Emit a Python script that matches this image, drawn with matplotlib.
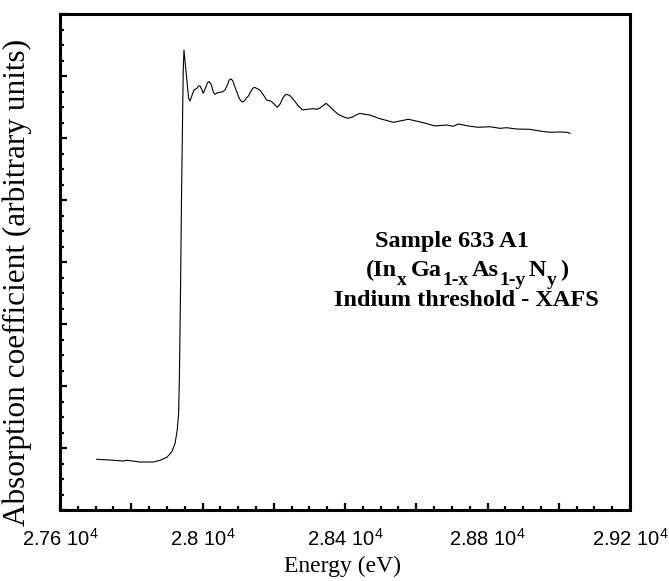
import matplotlib
matplotlib.use("Agg")
import matplotlib.pyplot as plt
from matplotlib.ticker import MultipleLocator, NullFormatter, FuncFormatter

plt.rcParams['mathtext.fontset'] = 'custom'
plt.rcParams['mathtext.rm'] = 'Liberation Sans'
plt.rcParams['mathtext.it'] = 'Liberation Sans:italic'
plt.rcParams['mathtext.bf'] = 'Liberation Serif:bold'

energy = [27703, 27740, 27778, 27787, 27825, 27862, 27881, 27900, 27914, 27923,
          27929, 27933, 27935, 27938, 27941, 27944, 27946, 27948,
          27956, 27961, 27965, 27971, 27976, 27984, 27989, 27993, 27998, 28002,
          28008, 28014, 28019, 28025, 28030, 28035, 28042, 28049, 28057, 28063,
          28070, 28075, 28080, 28085, 28090, 28096, 28103, 28109, 28113, 28118,
          28124, 28129, 28135, 28141, 28146, 28152, 28161, 28171, 28180, 28188,
          28194, 28204, 28210, 28218, 28225, 28231, 28236, 28244, 28250, 28260,
          28269, 28281, 28292, 28302, 28311, 28321, 28330, 28337, 28347, 28356,
          28367, 28381, 28395, 28407, 28419, 28431, 28442, 28456, 28470,
          28494, 28536, 28578, 28596, 28620, 28653, 28685, 28704, 28718, 28746,
          28774, 28807, 28835, 28854, 28882, 28919, 28952, 28975, 29004, 29022,
          29032]
absorption = [0.818, 0.806, 0.790, 0.802, 0.774, 0.774, 0.802, 0.850, 0.940, 1.076,
              1.290, 1.560, 2.097, 3.387, 5.000, 6.290, 7.097, 7.419,
              6.936, 6.640, 6.597, 6.694, 6.774, 6.801, 6.839, 6.839, 6.785, 6.721,
              6.801, 6.893, 6.909, 6.855, 6.747, 6.704, 6.731, 6.737, 6.747, 6.774,
              6.855, 6.936, 6.952, 6.925, 6.839, 6.747, 6.640, 6.592, 6.581, 6.602,
              6.651, 6.678, 6.747, 6.801, 6.817, 6.801, 6.774, 6.694, 6.613, 6.602,
              6.586, 6.532, 6.495, 6.549, 6.640, 6.688, 6.704, 6.688, 6.656, 6.586,
              6.516, 6.452, 6.462, 6.468, 6.473, 6.462, 6.484, 6.516, 6.559, 6.516,
              6.452, 6.382, 6.344, 6.317, 6.333, 6.371, 6.398, 6.382, 6.371,
              6.318, 6.253, 6.302, 6.279, 6.247, 6.194, 6.210, 6.189, 6.226, 6.194,
              6.173, 6.182, 6.156, 6.166, 6.145, 6.140, 6.108, 6.092, 6.097, 6.092,
              6.076]

xtick_values = [27600, 28000, 28400, 28800, 29200]
xtick_labels = ['2.76 10$^{4}$', '2.8 10$^{4}$', '2.84 10$^{4}$', '2.88 10$^{4}$', '2.92 10$^{4}$']
tick_label_map = dict(zip(xtick_values, xtick_labels))

# formula pieces: (text, is_subscript)
formula = [('(In', False), ('x', True), ('Ga', False), ('1-x', True), ('As', False),
           ('1-y', True), ('N', False), ('y', True), (')', False)]

W, H = 669, 581
fig = plt.figure(figsize=(W/100, H/100), dpi=100)
ax = fig.add_axes([60/W, 1-510/H, 570/W, 496/H])

ax.plot(energy, absorption, color='black', linewidth=0.8)

ax.set_xlim(27600, 29200)
ax.set_ylim(0, 8)

ax.xaxis.set_major_locator(MultipleLocator(200))
ax.xaxis.set_major_formatter(FuncFormatter(lambda v, p: tick_label_map.get(int(round(v)), '')))
ax.xaxis.set_minor_locator(MultipleLocator(50))
ax.yaxis.set_major_locator(MultipleLocator(1))
ax.yaxis.set_minor_locator(MultipleLocator(0.25))
ax.yaxis.set_major_formatter(NullFormatter())

ax.tick_params(which='both', direction='in', width=1.6, top=False, right=False)
ax.tick_params(which='major', length=5, pad=13)
ax.tick_params(which='minor', length=3)
for lab in ax.get_xticklabels():
    lab.set_family('Liberation Sans')
    lab.set_fontsize(14.5)
for s in ax.spines.values():
    s.set_linewidth(2.2)

fig.text(343/W, 1-566/H, 'Energy (eV)', ha='center', va='center',
         fontsize=17, family='Liberation Serif')
fig.text(17/W, 1-282/H, 'Absorption coefficient (arbitrary units)', ha='center',
         va='center', rotation=90, fontsize=22.5, family='Liberation Serif')

ax.text((452-60)/570, (510-241)/496, 'Sample 633 A1', transform=ax.transAxes,
        ha='center', va='center', fontsize=17.5, family='Liberation Serif', fontweight='bold')
ax.text((466-60)/570, (510-300)/496, 'Indium threshold - XAFS', transform=ax.transAxes,
        ha='center', va='center', fontsize=17.5, family='Liberation Serif', fontweight='bold')

# formula line laid out piece by piece (subscripts lowered)
renderer = fig.canvas.get_renderer()
main_size, sub_size = 17.5, 14
widths = []
for s, sub in formula:
    t = fig.text(0, 0, s, fontsize=sub_size if sub else main_size,
                 family='Liberation Serif', fontweight='bold')
    widths.append(t.get_window_extent(renderer).width)
    t.remove()
gaps = [(0.5 if formula[i + 1][1] else 3.5) for i in range(len(formula) - 1)]
total = sum(widths) + sum(gaps)
x = 467 - total / 2
base_main = 276
base_sub = 285
for i, ((s, sub), w) in enumerate(zip(formula, widths)):
    fig.text(x / W, 1 - (base_sub if sub else base_main) / H, s,
             fontsize=sub_size if sub else main_size, family='Liberation Serif',
             fontweight='bold', va='baseline', ha='left')
    x += w + (gaps[i] if i < len(gaps) else 0)

fig.savefig('out.png', dpi=100)
